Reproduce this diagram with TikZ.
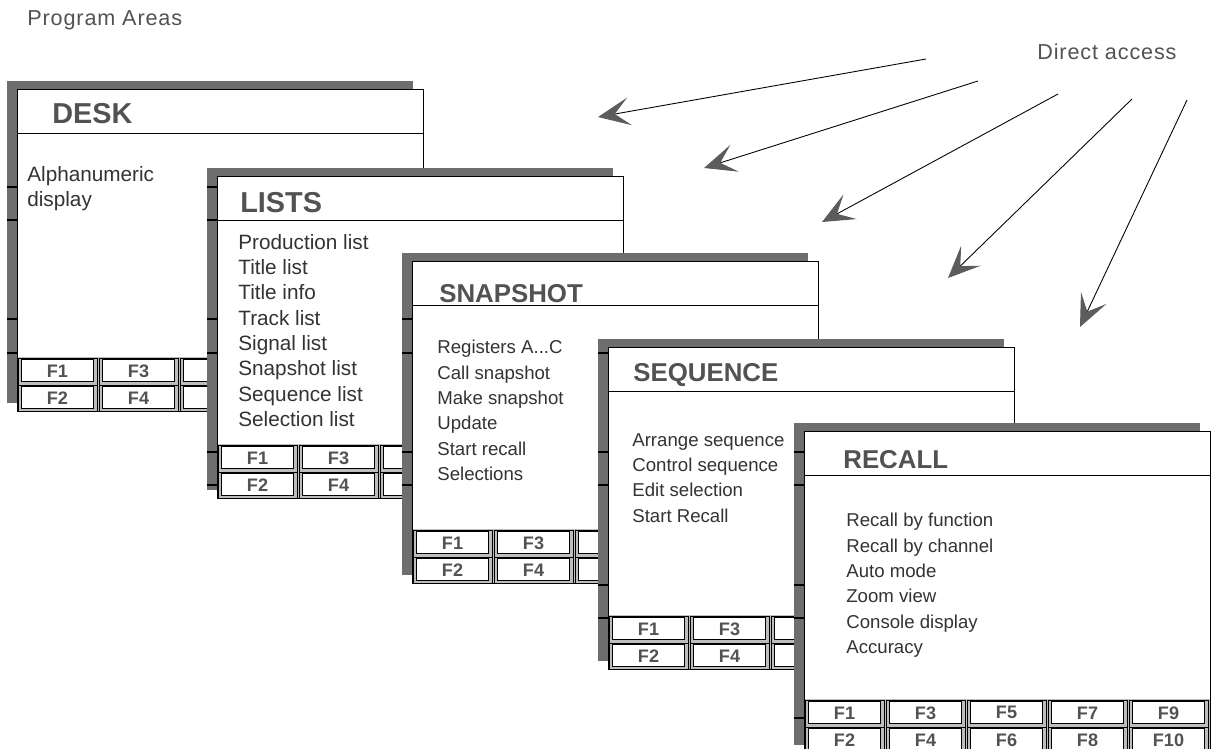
\documentclass[tikz,border=0pt]{standalone}
\usepackage{fontspec}
\setmainfont{Liberation Sans}
\usetikzlibrary{arrows.meta,calc}

\definecolor{shadowgray}{gray}{0.43}
\definecolor{bandgray}{gray}{0.74}
\definecolor{textgray}{gray}{0.2}
\definecolor{titlegray}{gray}{0.32}
\definecolor{headgray}{gray}{0.36}

\tikzset{
  window/.style={draw, line width=0.5pt, fill=white, anchor=north west,
    inner sep=0pt, minimum width=8.12cm, minimum height=6.44cm},
  areatitle/.style={anchor=base west, inner sep=0pt, text=titlegray,
    font=\fontsize{14.7}{17}\selectfont\bfseries},
  bigtitle/.style={areatitle, font=\fontsize{16.4}{19}\selectfont\bfseries},
  arealist/.style={anchor=north west, inner sep=0pt, align=left, text=textgray,
    font=\fontsize{10.6}{14.4}\selectfont},
  biglist/.style={arealist, font=\fontsize{11.8}{14.4}\selectfont},
  fkey/.style={draw, line width=0.4pt, fill=white, inner sep=0pt,
    minimum width=1.44cm, minimum height=0.44cm},
  fkeytext/.style={inner sep=0pt, text=titlegray,
    font=\fontsize{10.3}{12}\selectfont\bfseries},
  caption/.style={anchor=base west, inner sep=0pt, text=titlegray,
    font=\fontsize{12.3}{14}\selectfont\addfontfeature{LetterSpace=4}},
  direct/.style={line width=0.5pt,
    -{Stealth[length=6.4mm, width=5.6mm, inset=3mm, color=headgray]}}
}

% one program area: name, x, y of the window's top left corner,
% columns whose key labels can be seen
\newcommand{\programarea}[4]{%
  \fill[shadowgray] ({#2-10},{#3-8}) rectangle ++(406,322);
  \begin{scope}
    \clip ({#2-10},{#3-8}) rectangle (#2,{#3+314});
    \foreach \ty in {187,220,319,353,452,485,585,618,718}
      \draw[line width=0.6pt] ({#2-10},\ty) -- (#2,\ty);
  \end{scope}
  \node[window] (#1) at (#2,#3) {};
  \draw[line width=0.4pt] ($(#1.north west)+(0,44)$) -- ($(#1.north east)+(0,44)$);
  \fill[bandgray] ($(#1.south west)+(0,-55)$) rectangle (#1.south east);
  \foreach \c [evaluate=\c as \n using int(2*\c+1),
               evaluate=\c as \m using int(2*\c+2)] in {0,...,4} {
    \draw[line width=0.3pt] ($(#1.south west)+(1+81*\c,-54)$) rectangle ($(#1.south west)+(80+81*\c,-27)$);
    \draw[line width=0.3pt] ($(#1.south west)+(1+81*\c,-27)$) rectangle ($(#1.south west)+(80+81*\c,-1)$);
    \node[fkey] (#1-f\n) at ($(#1.south west)+(40.5+81*\c,-41)$) {};
    \node[fkey] (#1-f\m) at ($(#1.south west)+(40.5+81*\c,-14)$) {};
  }
  \foreach \c [evaluate=\c as \n using int(2*\c+1),
               evaluate=\c as \m using int(2*\c+2)] in {#4} {
    \node[fkeytext] (#1-t\n) at (#1-f\n) {F\n};
    \node[fkeytext] (#1-t\m) at (#1-f\m) {F\m};
  }
  \draw[line width=0.5pt] (#1.north west) rectangle (#1.south east);
}

\begin{document}
\begin{tikzpicture}[x=0.02cm, y=-0.02cm]
  \useasboundingbox (0,0) rectangle (1216,749);

  \node[caption] (areas) at (27,26) {Program Areas};
  \node[caption] (direct) at (1037,60) {Direct access};

  \programarea{desk}{17}{89}{0,1}
  \node[bigtitle] (desk-title) at ($(desk.north west)+(35,35)$) {DESK};
  \node[biglist] (desk-list) at ($(desk.north west)+(10,77)$) {Alphanumeric\\display};

  \programarea{lists}{217}{176}{0,1}
  \node[bigtitle] (lists-title) at ($(lists.north west)+(23,37)$) {LISTS};
  \node[biglist] (lists-list) at ($(lists.north west)+(21,58)$)
    {Production list\\Title list\\Title info\\Track list\\Signal list\\Snapshot list\\Sequence list\\Selection list};

  \programarea{snap}{412}{261}{0,1}
  \node[areatitle] (snap-title) at ($(snap.north west)+(27,42)$) {SNAPSHOT};
  \node[arealist] (snap-list) at ($(snap.north west)+(25,79)$)
    {Registers A...C\\Call snapshot\\Make snapshot\\Update\\Start recall\\Selections};

  \programarea{seq}{608}{347}{0,1}
  \node[areatitle] (seq-title) at ($(seq.north west)+(25,35)$) {SEQUENCE};
  \node[arealist] (seq-list) at ($(seq.north west)+(24,86)$)
    {Arrange sequence\\Control sequence\\Edit selection\\Start Recall};

  \programarea{recall}{804}{431}{0,...,4}
  \node[areatitle] (recall-title) at ($(recall.north west)+(39,37)$) {RECALL};
  \node[arealist] (recall-list) at ($(recall.north west)+(42,82)$)
    {Recall by function\\Recall by channel\\Auto mode\\Zoom view\\Console display\\Accuracy};

  % direct access arrows
  \coordinate (from1) at (926,59);
  \coordinate (from2) at (978,81);
  \coordinate (from3) at (1058,94);
  \coordinate (from4) at (1132,99);
  \coordinate (from5) at (1187,100);
  \coordinate (to1) at (598,117);
  \coordinate (to2) at (704,168);
  \coordinate (to3) at (822,222);
  \coordinate (to4) at (948,278);
  \coordinate (to5) at (1080,327);
  \foreach \i in {1,...,5}
    \draw[direct] (from\i) -- (to\i);
\end{tikzpicture}
\end{document}
